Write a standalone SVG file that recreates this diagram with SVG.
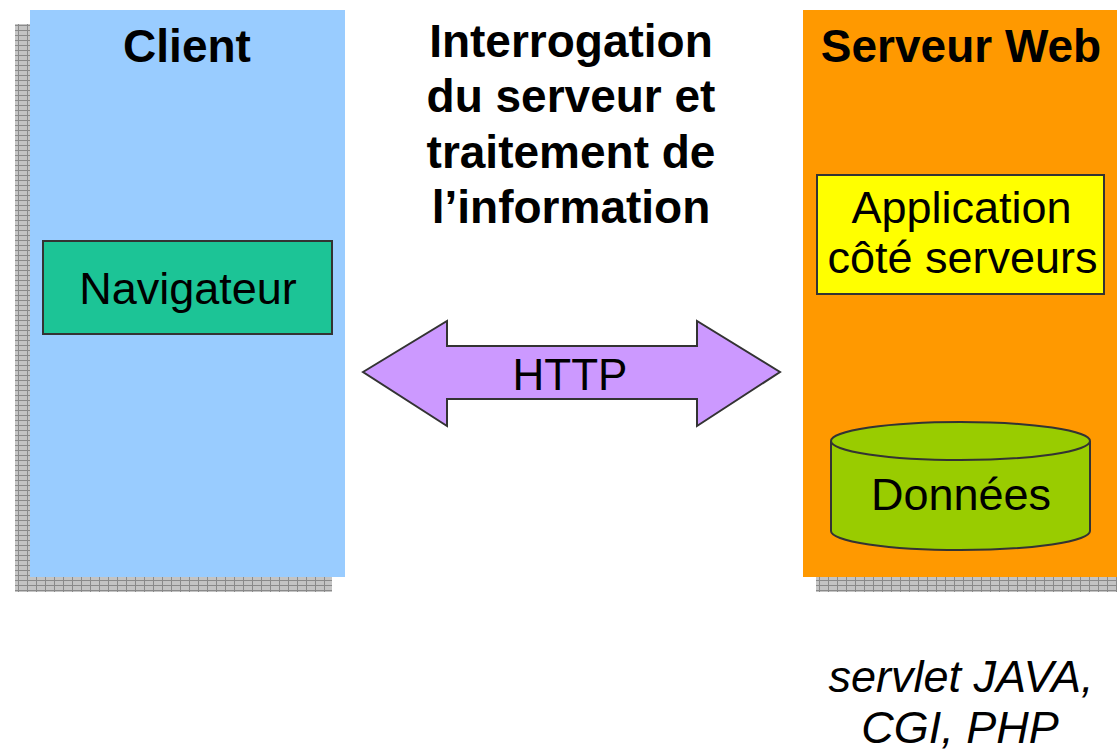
<svg xmlns="http://www.w3.org/2000/svg" width="1117" height="752" viewBox="0 0 1117 752">
  <style>
    .title { font-family: "Liberation Sans", Arial, sans-serif; font-weight: bold; font-size: 46px; fill: #000; text-anchor: middle; }
    .label { font-family: "Liberation Sans", Arial, sans-serif; font-size: 45px; fill: #000; text-anchor: middle; }
    .note { font-family: "Liberation Sans", Arial, sans-serif; font-style: italic; font-size: 45px; fill: #000; text-anchor: middle; }
    .box { stroke: #333; stroke-width: 2; }
  </style>
  <defs>
    <!-- grey hatched drop shadow -->
    <pattern id="grid" width="9" height="5" patternUnits="userSpaceOnUse">
      <rect width="9" height="5" fill="#c4c4c4"/>
      <path d="M0 0.5H9M0.5 0V5" stroke="#8a8a8a" stroke-width="1"/>
    </pattern>
  </defs>

  <rect width="1117" height="752" fill="#fff"/>

  <!-- Client panel -->
  <g id="client">
    <rect x="15" y="24" width="317" height="568" fill="url(#grid)"/>
    <rect x="30" y="10" width="315" height="567" fill="#99ccff"/>
    <text class="title" x="187" y="62">Client</text>
  </g>

  <!-- Server panel -->
  <g id="serveur-web">
    <rect x="816" y="24" width="315" height="568" fill="url(#grid)"/>
    <rect x="803" y="10" width="320" height="567" fill="#ff9900"/>
    <text class="title" x="961" y="62">Serveur Web</text>
  </g>

  <!-- Middle caption -->
  <g id="caption">
    <text class="title" x="571" y="57">Interrogation</text>
    <text class="title" x="571" y="112">du serveur et</text>
    <text class="title" x="571" y="168">traitement de</text>
    <text class="title" x="571" y="223">l’information</text>
  </g>

  <g id="navigateur">
    <rect class="box" x="43" y="241" width="289" height="93" fill="#1cc496" stroke="#124a3c"/>
    <text class="label" x="188" y="304">Navigateur</text>
  </g>

  <g id="application">
    <rect class="box" x="817" y="175" width="287" height="119" fill="#ffff00"/>
    <text class="label" x="961.5" y="223">Application</text>
    <text class="label" x="962.5" y="273">côté serveurs</text>
  </g>

  <g id="donnees">
    <path class="box" d="M831 441V531A129.5 19 0 0 0 1090 531V441" fill="#99cc00"/>
    <ellipse class="box" cx="960.5" cy="441" rx="129.5" ry="19" fill="#99cc00"/>
    <text class="label" x="961" y="510">Données</text>
  </g>

  <!-- HTTP connector -->
  <g id="connectors">
    <polygon class="box" points="363,372 447,321 447,346 697,346 697,321 780,372 697,426 697,399 447,399 447,426" fill="#cc99ff"/>
    <text class="label" x="570" y="390" style="font-size:44px">HTTP</text>
  </g>

  <g id="technos">
    <text class="note" x="961" y="692">servlet JAVA,</text>
    <text class="note" x="960" y="743">CGI, PHP</text>
  </g>
</svg>
